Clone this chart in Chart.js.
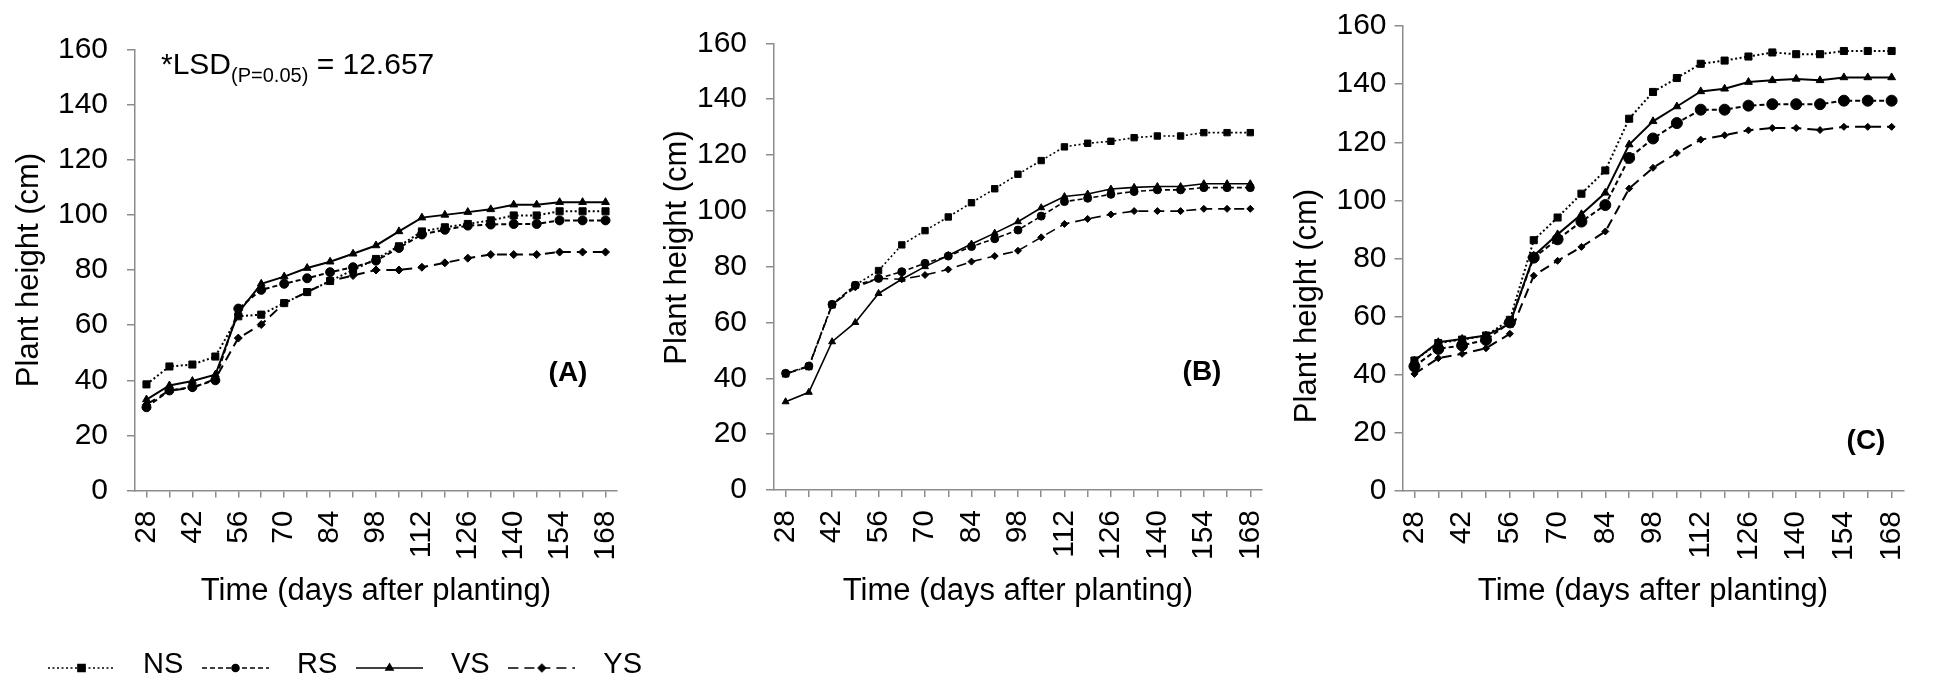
<!DOCTYPE html>
<html>
<head>
<meta charset="utf-8">
<script src="https://cdn.jsdelivr.net/npm/chart.js@4.4.1/dist/chart.umd.min.js"></script>
<style>
  html, body { margin: 0; padding: 0; background: #fff; overflow: hidden; }
  #wrap { position: relative; width: 1941px; height: 683px; overflow: hidden; background: #fff; }
  .panel { position: absolute; top: 0; }
</style>
</head>
<body>
<div id="wrap">
  <div class="panel" style="left:0;width:700px;height:700px"><canvas id="chartA"></canvas></div>
  <div class="panel" style="left:650px;width:650px;height:683px"><canvas id="chartB"></canvas></div>
  <div class="panel" style="left:1280px;width:661px;height:683px"><canvas id="chartC"></canvas></div>
</div>
<script>
// days after planting
const days = [28, 35, 42, 49, 56, 63, 70, 77, 84, 91, 98, 105, 112, 119, 126, 133, 140, 147, 154, 161, 168];
const shownDays = [28, 42, 56, 70, 84, 98, 112, 126, 140, 154, 168];
const seriesNames = ["NS", "RS", "VS", "YS"];
const yTicks = [0, 20, 40, 60, 80, 100, 120, 140, 160];

// panel A
const nsA = [38.5, 45, 45.7, 48.6, 63.2, 63.8, 68, 72, 76, 80, 84, 88.6, 94, 95.5, 96.7, 98, 99.8, 99.8, 101.3, 101.3, 101.3];
const rsA = [30.2, 36.3, 37.5, 40, 66, 72.8, 75, 77, 79.2, 81, 83.4, 88, 92.9, 94.6, 96.1, 96.5, 96.7, 96.7, 98, 98, 98];
const vsA = [33, 38.1, 39.7, 42, 64.5, 75, 77.6, 80.7, 83, 85.9, 88.9, 94, 99, 100, 101, 102, 103.7, 103.7, 104.6, 104.6, 104.6];
const ysA = [31.2, 36.3, 37.2, 40.5, 55.3, 60.2, 68, 72, 76, 78, 80, 80, 81, 82.6, 84.3, 85.6, 85.6, 85.6, 86.5, 86.5, 86.5];

// panel B
const nsB = [41.6, 44.2, 66.3, 73.4, 78.6, 87.8, 92.9, 97.8, 102.9, 107.9, 113.1, 118, 122.9, 124.2, 124.9, 126.2, 126.8, 126.8, 128, 128, 128];
const rsB = [41.8, 44.4, 66.5, 73.3, 75.8, 78.2, 81.2, 83.8, 87.2, 90, 93.1, 98.1, 103.3, 104.5, 105.9, 106.9, 107.5, 107.5, 108.3, 108.3, 108.3];
const vsB = [31.6, 35, 53.1, 60, 70.4, 75.5, 80, 84, 88.1, 92, 96.1, 101.1, 105.1, 106, 107.8, 108.4, 108.7, 108.7, 109.7, 109.7, 109.7];
const ysB = [41.6, 44.2, 66.3, 72.6, 75.8, 75.5, 77, 79, 81.8, 83.8, 85.7, 90.5, 95.3, 97.1, 98.7, 99.9, 99.9, 99.9, 100.7, 100.7, 100.7];

// panel C
const nsC = [44.9, 50.9, 52.1, 53.5, 58.9, 86.3, 94.1, 102.3, 110.3, 128.1, 137.3, 142.1, 147, 148.1, 149.5, 150.9, 150.3, 150.3, 151.4, 151.4, 151.4];
const rsC = [42.9, 48.9, 50.1, 52, 58, 80.3, 86.6, 92.7, 98.4, 114.6, 121.3, 126.6, 131.2, 131.2, 132.6, 133.1, 133.1, 133.1, 134.3, 134.3, 134.3];
const vsC = [44.9, 51.2, 52.3, 53.5, 57.5, 80.9, 88.3, 95.2, 102.6, 119.2, 127.2, 132.3, 137.5, 138.4, 140.7, 141.3, 141.8, 141.3, 142.3, 142.3, 142.3];
const ysC = [40.3, 45.7, 47.2, 49.1, 54.1, 74.1, 79.2, 84, 89.3, 104.1, 111.2, 116.3, 120.9, 122.4, 124.1, 124.9, 124.9, 124.2, 125.3, 125.3, 125.3];

const FONT = '"Liberation Sans", Arial, Helvetica, sans-serif';
const GREY = "#8c8c8c";

// line look per series
const looks = {
    NS: { dash: [2, 2.5], point: "rect" },
    RS: { dash: [5, 3], point: "circle" },
    VS: { dash: [], point: "triangle" },
    YS: { dash: [10, 6], point: "rectRot" }
};

// legend sample: dashed line with the marker in the middle
function legendIcon(name) {
    const c = document.createElement("canvas");
    c.width = 67;
    c.height = 32;
    const ctx = c.getContext("2d");
    const y = 19;
    ctx.strokeStyle = "#000";
    ctx.fillStyle = "#000";
    ctx.lineWidth = 1.6;
    ctx.setLineDash(looks[name].dash);
    ctx.beginPath();
    ctx.moveTo(0, y);
    ctx.lineTo(67, y);
    ctx.stroke();
    ctx.setLineDash([]);
    const r = { rect: 5, circle: 3.5, triangle: 4, rectRot: 3.5 }[looks[name].point];
    if (Chart.helpers && Chart.helpers.drawPoint) {
        Chart.helpers.drawPoint(ctx, { pointStyle: looks[name].point, radius: r, borderWidth: 1, rotation: 0 }, 33.5, y);
    }
    return c;
}

// extra texts: y title, panel letter, LSD note
const panelText = {
    id: "panelText",
    afterDraw(chart, args, o) {
        const ctx = chart.ctx;
        ctx.save();
        ctx.fillStyle = "#000";

        ctx.save();
        ctx.translate(o.yTitle.x, o.yTitle.y);
        ctx.rotate(-Math.PI / 2);
        ctx.font = "31px " + FONT;
        ctx.textAlign = "center";
        ctx.textBaseline = "middle";
        ctx.fillText("Plant height (cm)", 0, 0);
        ctx.restore();

        ctx.font = "bold 28px " + FONT;
        ctx.textAlign = "center";
        ctx.textBaseline = "middle";
        ctx.fillText(o.label, o.labelPos.x, o.labelPos.y);

        if (o.lsd) {
            ctx.textAlign = "left";
            ctx.textBaseline = "alphabetic";
            let x = o.lsd.x;
            ctx.font = "30px " + FONT;
            ctx.fillText("*LSD", x, o.lsd.y);
            x += ctx.measureText("*LSD").width;
            ctx.font = "20px " + FONT;
            ctx.fillText("(P=0.05)", x, o.lsd.y + 8);
            x += ctx.measureText("(P=0.05)").width;
            ctx.font = "30px " + FONT;
            ctx.fillText(" = 12.657", x, o.lsd.y);
        }
        ctx.restore();
    }
};

function makePanel(id, values, p) {
    const datasets = seriesNames.map((name, i) => ({
        label: name,
        data: values[i],
        borderColor: "#000",
        backgroundColor: "#000",
        borderWidth: p.lineWidth,
        borderDash: looks[name].dash,
        pointStyle: looks[name].point,
        pointRadius: p.radius[looks[name].point],
        pointBackgroundColor: "#000",
        pointBorderColor: "#000",
        pointBorderWidth: 1,
        tension: 0,
        fill: false
    }));

    new Chart(document.getElementById(id), {
        type: "line",
        data: { labels: days, datasets: datasets },
        plugins: [panelText],
        options: {
            responsive: true,
            maintainAspectRatio: false,
            animation: false,
            devicePixelRatio: 1,
            layout: {
                padding: { left: p.padL, right: 0, top: p.area.top, bottom: p.padB }
            },
            scales: {
                x: {
                    type: "category",
                    offset: true,
                    grid: { drawOnChartArea: false, drawTicks: true, tickLength: 7, color: GREY, lineWidth: 1.5, offset: false },
                    border: { display: true, color: GREY, width: 1.5 },
                    ticks: {
                        autoSkip: false,
                        maxRotation: 90,
                        minRotation: 90,
                        padding: 13,
                        color: "#000",
                        font: { family: FONT, size: 30 },
                        callback: function (v, i) {
                            const d = days[i];
                            return shownDays.includes(d) ? String(d) : "";
                        }
                    },
                    title: {
                        display: true,
                        text: "Time (days after planting)",
                        color: "#000",
                        font: { family: FONT, size: 31 },
                        padding: { top: 0, bottom: p.xTitlePad }
                    },
                    afterFit: function (s) {
                        const lg = s.chart.options.plugins.legend.display ? s.chart.legend.height : 0;
                        s.height = s.chart.height - p.padB - lg - p.area.bottom;
                    }
                },
                y: {
                    min: 0,
                    max: 160,
                    afterBuildTicks: function (s) {
                        s.ticks = yTicks.map(v => ({ value: v }));
                    },
                    grid: { drawOnChartArea: false, drawTicks: true, tickLength: 8, color: GREY, lineWidth: 1.5 },
                    border: { display: true, color: GREY, width: 1.5 },
                    ticks: {
                        padding: p.yTickPad,
                        color: "#000",
                        font: { family: FONT, size: 30 }
                    },
                    afterFit: function (s) {
                        s.width = p.area.left - p.padL;
                    }
                },
                // empty box on the right so the plot ends where it should
                // while the legend can still use the full width
                spacer: {
                    type: "linear",
                    position: "right",
                    grid: { display: false },
                    border: { display: false },
                    ticks: { display: false },
                    afterFit: function (s) {
                        s.width = p.width - p.area.right;
                    }
                }
            },
            plugins: {
                tooltip: { enabled: false },
                legend: {
                    display: !!p.legend,
                    position: "bottom",
                    align: "start",
                    labels: {
                        usePointStyle: true,
                        pointStyleWidth: 94,
                        padding: 5.2,
                        color: "#000",
                        font: { family: FONT, size: 29 },
                        generateLabels: function (chart) {
                            return chart.data.datasets.map((ds, i) => ({
                                text: ds.label,
                                pointStyle: legendIcon(ds.label),
                                fillStyle: "#000",
                                strokeStyle: "#000",
                                lineWidth: 0,
                                fontColor: "#000",
                                hidden: false,
                                datasetIndex: i
                            }));
                        }
                    }
                },
                panelText: {
                    yTitle: p.yTitle,
                    label: p.label,
                    labelPos: p.labelPos,
                    lsd: p.lsd || null
                }
            }
        }
    });
}

makePanel("chartA", [nsA, rsA, vsA, ysA], {
    width: 700,
    area: { left: 135, right: 617, top: 49.5, bottom: 490.5 },
    padL: 29.3, padB: 10.5, xTitlePad: 35.7, yTickPad: 19, lineWidth: 2,
    radius: { rect: 5, circle: 4.5, triangle: 4.5, rectRot: 4 },
    yTitle: { x: 29.6, y: 270 },
    label: "(A)", labelPos: { x: 568, y: 373 },
    lsd: { x: 161, y: 74 },
    legend: true
});

makePanel("chartB", [nsB, rsB, vsB, ysB], {
    width: 650,
    area: { left: 124, right: 620.6, top: 43.3, bottom: 490 },
    padL: 0, padB: 0, xTitlePad: 73.4, yTickPad: 19, lineWidth: 1.6,
    radius: { rect: 4.5, circle: 4, triangle: 4, rectRot: 3.5 },
    yTitle: { x: 27.4, y: 247.5 },
    label: "(B)", labelPos: { x: 552, y: 372 }
});

makePanel("chartC", [nsC, rsC, vsC, ysC], {
    width: 661,
    area: { left: 122.5, right: 645, top: 24.3, bottom: 491 },
    padL: 0, padB: 0, xTitlePad: 73.4, yTickPad: 8, lineWidth: 2,
    radius: { rect: 5, circle: 5.5, triangle: 4.5, rectRot: 3.5 },
    yTitle: { x: 27.6, y: 306 },
    label: "(C)", labelPos: { x: 586, y: 441 }
});
</script>
</body>
</html>
